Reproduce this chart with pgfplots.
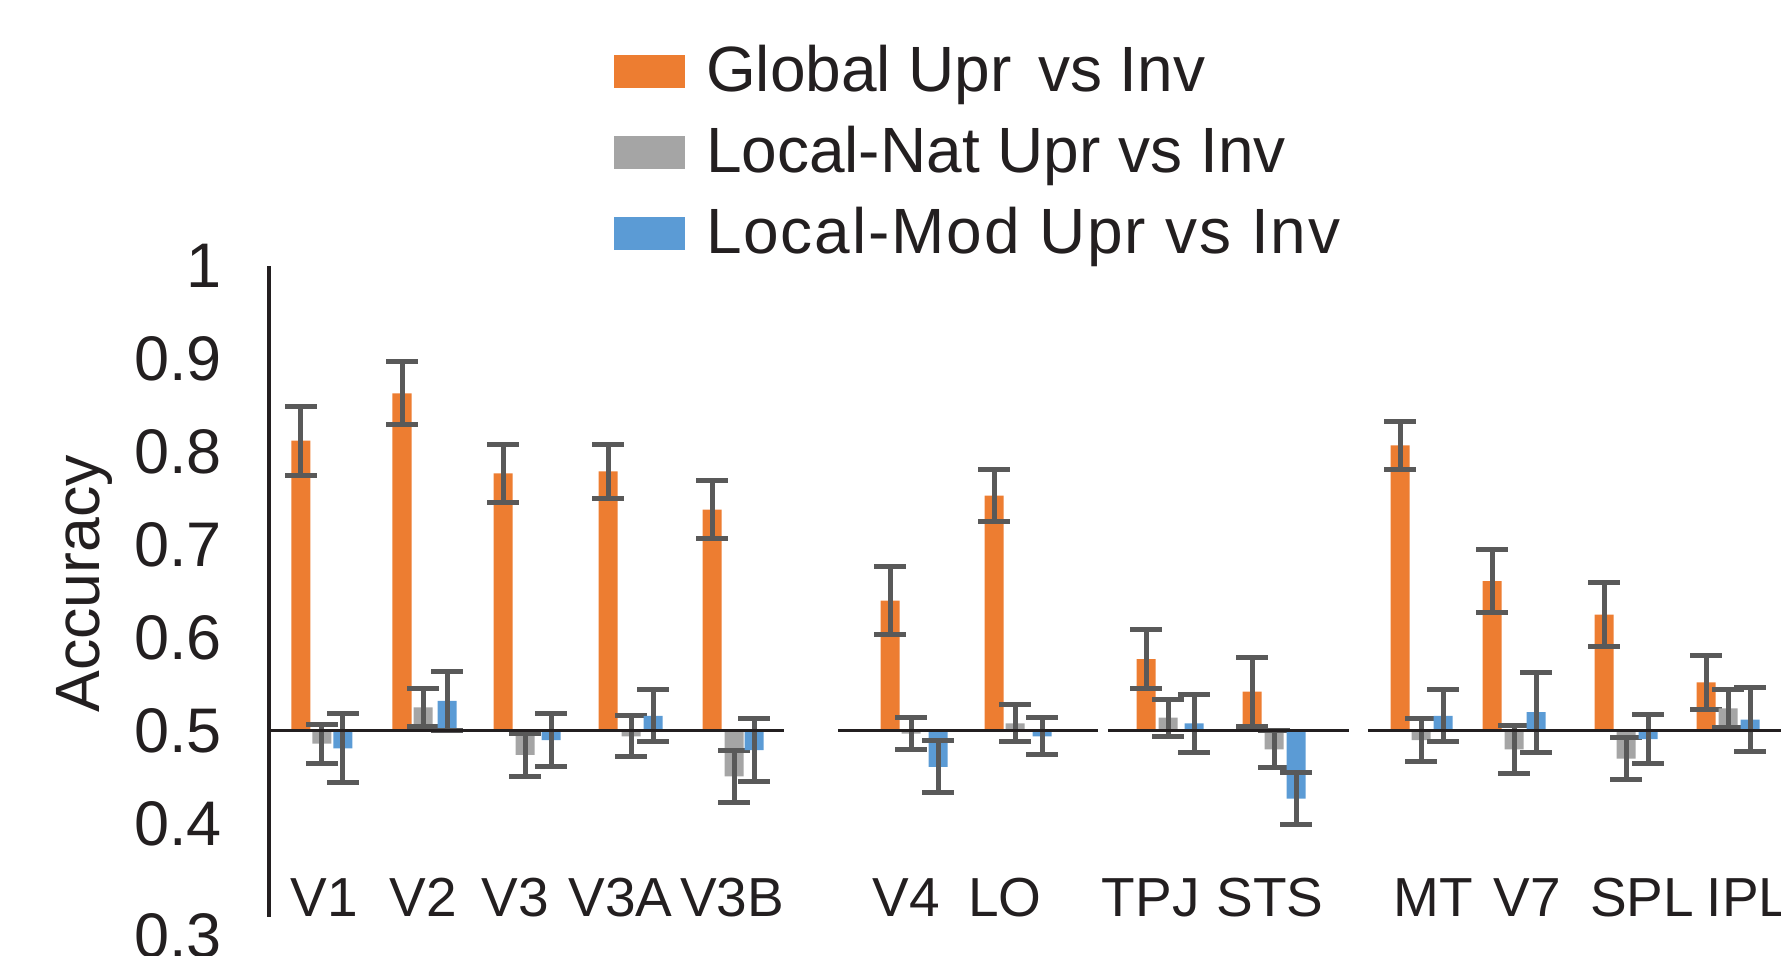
\documentclass[border=0pt]{standalone}
\usepackage{fontspec}
\setmainfont{Liberation Sans}
\usepackage{pgfplots}
\usepackage{pgfplotstable}
\pgfplotsset{compat=1.18}
\definecolor{cOr}{HTML}{ED7D31}
\definecolor{cGr}{HTML}{A5A5A5}
\definecolor{cBl}{HTML}{5B9BD5}
\definecolor{cEr}{HTML}{595959}
\definecolor{cTx}{HTML}{231F20}

\pgfplotstableread{
roi xo g ge xg n ne xb m me
V1 301 0.812 0.037 322 0.486 0.021 343 0.481 0.037
V2 402 0.863 0.034 423 0.525 0.020 447 0.532 0.032
V3 503 0.777 0.031 525 0.474 0.023 551 0.490 0.028
V3A 608 0.779 0.029 631 0.494 0.022 653 0.516 0.028
V3B 712 0.738 0.031 734 0.451 0.028 754 0.479 0.034
V4 890 0.640 0.037 911 0.497 0.017 938 0.461 0.028
LO 994 0.753 0.028 1015 0.508 0.020 1042 0.494 0.020
TPJ 1146 0.577 0.032 1168 0.514 0.020 1194 0.508 0.031
STS 1252 0.542 0.037 1274 0.480 0.020 1296 0.427 0.028
MT 1400 0.807 0.026 1421 0.490 0.023 1443 0.516 0.028
V7 1492 0.661 0.034 1514 0.480 0.026 1536 0.520 0.043
SPL 1604 0.625 0.034 1626 0.470 0.023 1648 0.491 0.026
IPL 1706 0.552 0.029 1728 0.524 0.020 1750 0.512 0.034
}\data

\begin{document}
\begin{tikzpicture}
\path[use as bounding box] (-134.5pt,-19.2pt) rectangle (756pt,458.3pt);
\clip (-134.5pt,-19.2pt) rectangle (756pt,458.3pt);
\begin{axis}[
  scale only axis, width=756pt, height=325.3pt,
  xmin=269, xmax=1781, ymin=-0.2, ymax=0.5,
  axis lines*=left,
  x axis line style={draw=none},
  y axis line style={line width=1.7pt, color=cTx},
  major tick length=0pt,
  ytick={-0.1,0,0.1,0.2,0.3,0.4,0.5},
  yticklabels={0.4,0.5,0.6,0.7,0.8,0.9,1},
  extra y ticks={-0.2},
  extra y tick labels={0.3},
  extra y tick style={yticklabel style={yshift=-9.7pt}},
  xtick={324,423,515,620.6,732,906,1005,1150.6,1270,1433.6,1527,1642,1748},
  xticklabels={V1,V2,V3,V3A,V3B,V4,LO,TPJ,STS,MT,V7,SPL,IPL},
  xticklabel style={anchor=base, inner sep=0pt, font=\fontsize{27.5}{33}\selectfont, text=cTx},
  yticklabel style={anchor=east, inner sep=0pt, xshift=-23.5pt, font=\fontsize{31.5}{37}\selectfont, text=cTx},
  ylabel={Accuracy},
  every axis y label/.style={at={(axis description cs:-0.1219,0.5113)}, rotate=90, anchor=center, font=\fontsize{31.3}{37}\selectfont, text=cTx},
  clip=false,
  legend image code/.code={\fill[#1] (0pt,-6.35pt) rectangle (35.5pt,10pt);},
  legend cell align=left,
  legend style={at={(axis description cs:0.2282,1.3397)}, anchor=north west, draw=none, fill=none,
    inner sep=0pt, outer sep=0pt, row sep=10.6pt, column sep=10.5pt,
    font=\fontsize{32}{38}\selectfont, text=cTx,
    nodes={inner sep=0pt, text height=23pt, text depth=7pt}},
  error bars/error bar style={line width=2.5pt, color=cEr},
  error bars/error mark options={rotate=90, mark size=7.9pt, line width=2.5pt, color=cEr},
]
\addplot[ybar, bar width=9.5pt, bar shift=0pt, fill=cOr, draw=none,
  error bars/.cd, y dir=both, y explicit]
  table[x=xo, y expr=\thisrow{g}-0.5, y error=ge]{\data};
\addlegendentry{Global Upr\hspace{13.1pt}vs Inv}
\addplot[ybar, bar width=9.5pt, bar shift=0pt, fill=cGr, draw=none,
  error bars/.cd, y dir=both, y explicit]
  table[x=xg, y expr=\thisrow{n}-0.5, y error=ne]{\data};
\addlegendentry{Local-Nat Upr vs Inv}
\addplot[ybar, bar width=9.5pt, bar shift=0pt, fill=cBl, draw=none,
  error bars/.cd, y dir=both, y explicit]
  table[x=xb, y expr=\thisrow{m}-0.5, y error=me]{\data};
\addlegendentry{\addfontfeature{LetterSpace=2.9}Local-Mod Upr vs Inv}
\addplot[cTx, line width=1.6pt, forget plot] coordinates {(269,0) (784,0)};
\addplot[cTx, line width=1.6pt, forget plot] coordinates {(838,0) (1098,0)};
\addplot[cTx, line width=1.6pt, forget plot] coordinates {(1108,0) (1349,0)};
\addplot[cTx, line width=1.6pt, forget plot] coordinates {(1368,0) (1781,0)};
\end{axis}
\end{tikzpicture}
\end{document}
